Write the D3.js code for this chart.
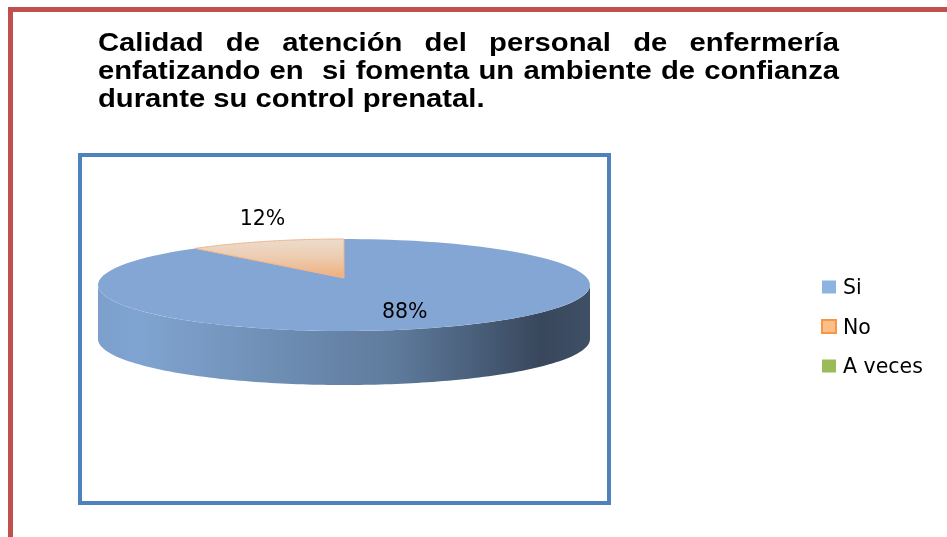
<!DOCTYPE html>
<html><head><meta charset="utf-8">
<script src="https://cdn.jsdelivr.net/npm/d3@7"></script>
<style>html,body{margin:0;padding:0;background:#fff;overflow:hidden}svg{display:block;filter:blur(0.4px)}</style>
</head><body><svg id="c" width="947" height="537"></svg>
<script>
const categories = ["Si", "No", "A veces"];
const values = [88, 12, 0];
const titleLines = [
  "Calidad de atención del personal de enfermería",
  "enfatizando en \u00a0si fomenta un ambiente de confianza",
  "durante su control prenatal."
];
const sliceColors = ["#84a6d4", "url(#wedge)", "#9bbb59"];
const legendFill = ["#8db3e2", "#fdbf85", "#9bbb59"];
const legendStroke = ["none", "#f79646", "none"];

const svg = d3.select("#c");
svg.append("rect").attr("width", 947).attr("height", 537).attr("fill", "#fff");
const defs = svg.append("defs");
const side = defs.append("linearGradient").attr("id", "side").attr("gradientUnits", "userSpaceOnUse")
  .attr("x1", 98).attr("x2", 590).attr("y1", 0).attr("y2", 0);
[[0, "#7c9fcc"], [.08, "#80a4d1"], [.4, "#6c8bb0"], [.6, "#5f7b9c"], [.75, "#4c627e"], [.9, "#38475c"], [1, "#3f4f65"]]
  .forEach(d => side.append("stop").attr("offset", d[0]).attr("stop-color", d[1]));
const wedge = defs.append("linearGradient").attr("id", "wedge").attr("x1", 0).attr("x2", 0).attr("y1", 0).attr("y2", 1);
[[0, "#ecdccd"], [.5, "#edcbae"], [1, "#f0ae7a"]]
  .forEach(d => wedge.append("stop").attr("offset", d[0]).attr("stop-color", d[1]));

// frames
svg.append("path").attr("d", "M947,9.5H10.5V537").attr("fill", "none").attr("stroke", "#c0504d").attr("stroke-width", 5);
svg.append("rect").attr("x", 80).attr("y", 155).attr("width", 529).attr("height", 348)
  .attr("fill", "#fff").attr("stroke", "#4f81bd").attr("stroke-width", 4);

// title, justified and stretched horizontally like the reference
const textLeft = 98, textRight = 839, titleStretch = 1.17;
const titleG = svg.append("g").attr("transform", `translate(${textLeft},0) scale(${titleStretch},1)`)
  .attr("font-family", "'Liberation Sans'").attr("font-weight", "bold")
  .attr("font-size", 25).attr("fill", "#000");
const baselines = d3.scalePoint().domain(d3.range(titleLines.length)).range([51, 107]);
titleLines.forEach((t, i) => {
  const el = titleG.append("text").attr("x", 0).attr("y", baselines(i)).text(t);
  if (i < titleLines.length - 1) {
    const gaps = (t.match(/[ \u00a0]/g) || []).length;
    el.attr("word-spacing", ((textRight - textLeft) / titleStretch - el.node().getComputedTextLength()) / gaps);
  }
});

// pie
const cx = 344, cy = 285, rx = 246, ry = 46, depth = 54, tipY = 278, foreshorten = 0.81;
const pieData = d3.pie().sort(null).value(d => d)(values);
const view = a => Math.atan2(Math.sin(a) * foreshorten, Math.cos(a));
const pt = (a, y0 = cy) => { const v = view(a); return [cx + rx * Math.sin(v), y0 - ry * Math.cos(v)]; };
const line = d3.line();
const sample = (a0, a1) => d3.range(0, 121).map(i => a0 + (a1 - a0) * i / 120);

// wall: front half
const front = sample(Math.PI / 2, 3 * Math.PI / 2);
svg.append("path").attr("fill", "url(#side)")
  .attr("d", line(front.map(a => pt(a)).concat(front.slice().reverse().map(a => pt(a, cy + depth)))) + "Z");

// top faces
pieData.forEach((d, i) => {
  if (d.endAngle - d.startAngle === 0) return;
  const rim = sample(d.startAngle, d.endAngle).map(a => pt(a));
  svg.append("path").attr("d", line([[cx, tipY]].concat(rim)) + "Z").attr("fill", sliceColors[i])
    .attr("stroke", i === 1 ? "#f0b48a" : "none").attr("stroke-width", 1);
});

// data labels
const labelReach = [[.67, .6], [.9, 1.57]];
const labelG = svg.append("g").attr("font-family", "'DejaVu Sans'").attr("font-size", 20.5).attr("fill", "#000")
  .attr("text-anchor", "middle");
pieData.forEach((d, i) => {
  if (d.value === 0) return;
  const m = (d.startAngle + d.endAngle) / 2;
  labelG.append("text")
    .attr("x", cx + rx * Math.sin(m) * labelReach[i][0])
    .attr("y", cy - ry * Math.cos(m) * labelReach[i][1])
    .attr("dy", ".36em").text(d.value + "%");
});

// legend
const legendY = d3.scalePoint().domain(categories).range([287, 366]);
const leg = svg.append("g").selectAll("g").data(categories).join("g")
  .attr("transform", d => `translate(0,${legendY(d)})`);
leg.append("rect").attr("x", 822).attr("y", -6.5).attr("width", 14).attr("height", 13)
  .attr("fill", (d, i) => legendFill[i]).attr("stroke", (d, i) => legendStroke[i]).attr("stroke-width", 2);
leg.append("text").attr("x", 843).attr("dy", ".36em").attr("font-family", "'DejaVu Sans'").attr("font-size", 20.5)
  .attr("fill", "#000").text(d => d);
</script></body></html>
